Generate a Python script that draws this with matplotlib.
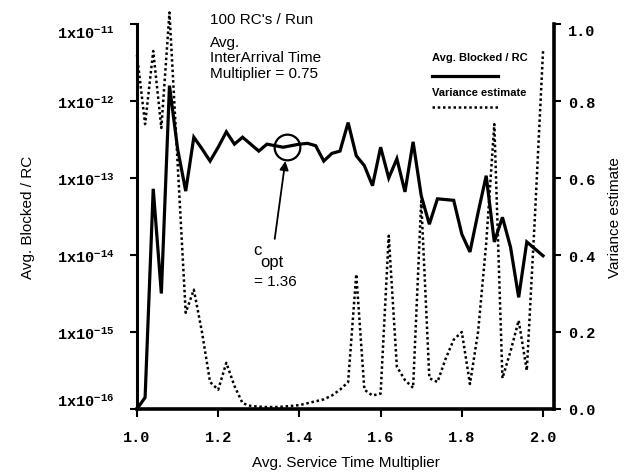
import numpy as np
import matplotlib
matplotlib.use("Agg")
import matplotlib.pyplot as plt
from matplotlib.lines import Line2D
from matplotlib.ticker import NullLocator

plt.rcParams['font.family'] = 'Liberation Sans'
plt.rcParams['mathtext.fontset'] = 'custom'
plt.rcParams['mathtext.rm'] = 'Liberation Mono:bold'
plt.rcParams['mathtext.it'] = 'Liberation Mono:bold'
plt.rcParams['mathtext.bf'] = 'Liberation Mono:bold'

# service time multiplier
x = [1.00, 1.02, 1.04, 1.06, 1.08, 1.10, 1.12, 1.14, 1.16, 1.18,
     1.20, 1.22, 1.24, 1.26, 1.28, 1.30, 1.32, 1.34, 1.36, 1.38,
     1.40, 1.42, 1.44, 1.46, 1.48, 1.50, 1.52, 1.54, 1.56, 1.58,
     1.60, 1.62, 1.64, 1.66, 1.68, 1.70, 1.72, 1.74, 1.76, 1.78,
     1.80, 1.82, 1.84, 1.86, 1.88, 1.90, 1.92, 1.94, 1.96, 1.98, 2.00]

# avg. blocked / RC, as log10 exponent
blocked_exp = [-16.0, -15.85, -13.14, -14.5, -11.8, -12.62, -13.17, -12.47, -12.62, -12.78,
               -12.6, -12.40, -12.56, -12.47, -12.56, -12.65, -12.56, -12.58, -12.6, -12.58,
               -12.56, -12.55, -12.58, -12.78, -12.68, -12.65, -12.28, -12.71, -12.84, -13.1,
               -12.6, -13.0, -12.75, -13.18, -12.53, -13.23, -13.60, -13.27, -13.28, -13.29,
               -13.73, -13.96, -13.45, -12.97, -13.83, -13.51, -13.90, -14.55, -13.83, -13.92, -14.01]

# variance estimate
variance = [0.92, 0.74, 0.93, 0.73, 1.03, 0.64, 0.25, 0.31, 0.20, 0.07,
            0.05, 0.12, 0.06, 0.015, 0.008, 0.006, 0.005, 0.005, 0.006, 0.008,
            0.01, 0.015, 0.02, 0.025, 0.035, 0.05, 0.07, 0.35, 0.05, 0.035,
            0.04, 0.45, 0.11, 0.075, 0.055, 0.54, 0.08, 0.07, 0.13, 0.18,
            0.20, 0.065, 0.20, 0.43, 0.74, 0.08, 0.15, 0.23, 0.10, 0.50, 0.93]

copt_x = 1.37
copt_exp = -12.6

left_ticks = [1e-16, 1e-15, 1e-14, 1e-13, 1e-12, 1e-11]
left_labels = ['1x10$^{-16}$', '1x10$^{-15}$', '1x10$^{-14}$',
               '1x10$^{-13}$', '1x10$^{-12}$', '1x10$^{-11}$']
right_ticks = [0.0, 0.2, 0.4, 0.6, 0.8, 1.0]
right_labels = ['0.0', '0.2', '0.4', '0.6', '0.8', '1.0']
x_ticks = [1.0, 1.2, 1.4, 1.6, 1.8, 2.0]
x_labels = ['1.0', '1.2', '1.4', '1.6', '1.8', '2.0']

mono = dict(family='Liberation Mono', weight='bold', size=11)
dots = (0, (1, 1.1))

fig = plt.figure(figsize=(6.33, 4.77), dpi=100)
ax1 = fig.add_axes([0.2164, 0.1405, 0.6588, 0.807])
ax2 = ax1.twinx()

blocked = 10.0 ** np.array(blocked_exp)
ax1.plot(x, blocked, color='black', lw=2.3, solid_joinstyle='miter', zorder=3)
ax1.plot([copt_x], [10.0 ** copt_exp], marker='o', ms=18.5, mfc='none',
         mec='black', mew=1.6, zorder=4)
ax1.annotate('', xy=(copt_x, 10.0 ** copt_exp), xytext=(-9, -66),
             textcoords='offset points',
             arrowprops=dict(arrowstyle='-|>', color='black', lw=1.3,
                             shrinkA=0, shrinkB=10, mutation_scale=13))

ax2.plot(x, variance, color='black', lw=1.8, ls=dots, clip_on=False)

ax1.set_yscale('log')
ax1.set_xlim(1.0, 2.027)
ax1.set_ylim(1e-16, 1e-11)
ax2.set_ylim(0.0, 1.0)

ax1.set_yticks(left_ticks)
ax1.set_yticklabels(left_labels, fontdict=mono)
ax1.yaxis.set_minor_locator(NullLocator())
ax1.set_xticks(x_ticks)
ax1.set_xticklabels(x_labels, fontdict=mono)
ax2.set_yticks(right_ticks)
ax2.set_yticklabels(right_labels, fontdict=mono)

labs = ax1.get_yticklabels()
labs[0].set_va('bottom')
labs[-1].set_va('top')
ax2.get_yticklabels()[-1].set_va('top')

ax1.tick_params(axis='y', direction='out', length=5, width=1.5, pad=11)
ax1.tick_params(axis='x', direction='out', length=6, width=1.5, pad=9)
ax2.tick_params(axis='y', direction='out', length=5, width=1.5, pad=5)

for a in (ax1, ax2):
    a.spines['top'].set_visible(False)
ax1.spines['right'].set_visible(False)
ax2.spines['left'].set_visible(False)
ax2.spines['bottom'].set_visible(False)
ax1.spines['left'].set_linewidth(2.2)
ax1.spines['bottom'].set_linewidth(2.6)
ax2.spines['right'].set_linewidth(2.6)

ax1.set_xlabel('Avg. Service Time Multiplier', fontsize=11, labelpad=8)
ax1.set_ylabel('Avg. Blocked / RC', fontsize=11, labelpad=16)
ax2.set_ylabel('Variance estimate', fontsize=11, labelpad=9)

fig.text(210 / 633, 1 - 20 / 477, "100 RC's / Run", fontsize=11, va='center')
fig.text(210 / 633, 1 - 43 / 477, 'Avg.', fontsize=11, va='center')
fig.text(210 / 633, 1 - 58 / 477, 'InterArrival Time', fontsize=11, va='center')
fig.text(210 / 633, 1 - 74 / 477, 'Multiplier = 0.75', fontsize=11, va='center')

fig.text(253 / 633, 1 - 251 / 477, 'c', fontsize=12, va='center')
fig.text(260 / 633, 1 - 262 / 477, 'opt', fontsize=12, va='center')
fig.text(254 / 633, 1 - 282 / 477, '= 1.36', fontsize=11, va='center')

# legend, label above line sample
ax1.text(0.707, 0.914, 'Avg. Blocked / RC', transform=ax1.transAxes,
         fontsize=8, fontweight='bold', va='center')
ax1.add_line(Line2D([0.707, 0.866], [0.865, 0.865], transform=ax1.transAxes,
                    color='black', lw=2.3))
ax1.text(0.707, 0.823, 'Variance estimate', transform=ax1.transAxes,
         fontsize=8, fontweight='bold', va='center')
ax1.add_line(Line2D([0.707, 0.866], [0.784, 0.784], transform=ax1.transAxes,
                    color='black', lw=1.8, ls=dots))

fig.savefig('out.png', dpi=100)
